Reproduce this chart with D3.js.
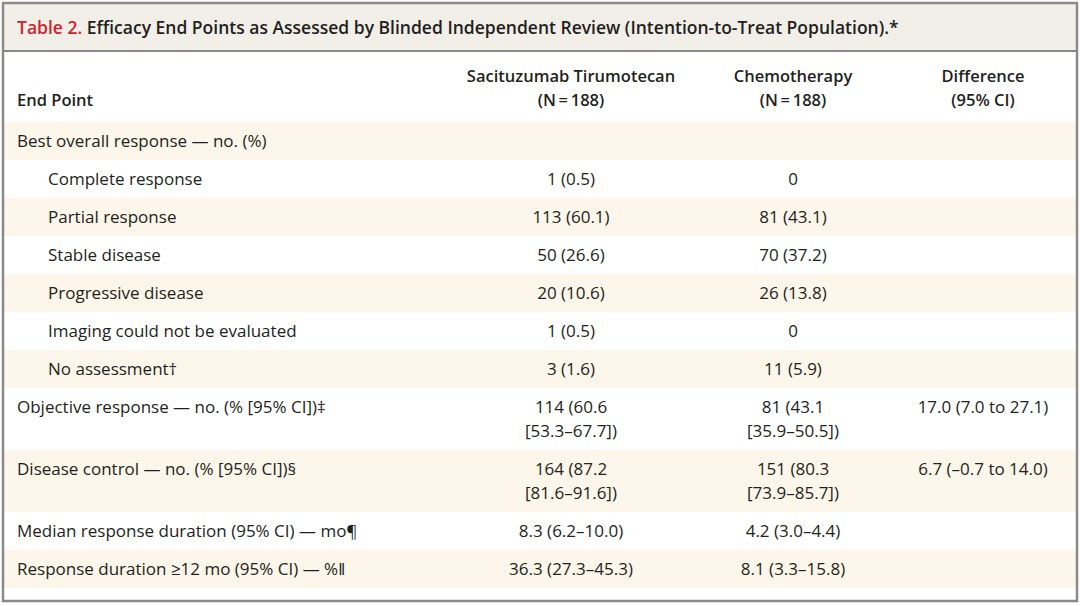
<!DOCTYPE html>
<html><head><meta charset="utf-8">
<script src="https://cdn.jsdelivr.net/npm/d3@7"></script>
<style>body{margin:0;background:#fff}</style></head>
<body><svg id="c" width="1080" height="606"></svg>
<script>
const titleLabel = "Table 2.";
const titleText = "Efficacy End Points as Assessed by Blinded Independent Review (Intention-to-Treat Population).*";
const columns = [["End Point"],["Sacituzumab Tirumotecan","(N\u2009=\u2009188)"],["Chemotherapy","(N\u2009=\u2009188)"],["Difference","(95% CI)"]];
const endPoints = ["Best overall response \u2014 no. (%)","Complete response","Partial response","Stable disease","Progressive disease","Imaging could not be evaluated","No assessment\u2020","Objective response \u2014 no. (% [95% CI])\u2021","Disease control \u2014 no. (% [95% CI])\u00a7","Median response duration  (95% CI) \u2014 mo\u00b6","Response duration \u226512 mo (95% CI) \u2014 %\u2016"];
const indent = [0,1,1,1,1,1,1,0,0,0,0];
const sacValues = [[""],["1 (0.5)"],["113 (60.1)"],["50 (26.6)"],["20 (10.6)"],["1 (0.5)"],["3 (1.6)"],["114 (60.6","[53.3\u201367.7])"],["164 (87.2","[81.6\u201391.6])"],["8.3 (6.2\u201310.0)"],["36.3 (27.3\u201345.3)"]];
const chemoValues = [[""],["0"],["81 (43.1)"],["70 (37.2)"],["26 (13.8)"],["0"],["11 (5.9)"],["81 (43.1","[35.9\u201350.5])"],["151 (80.3","[73.9\u201385.7])"],["4.2 (3.0\u20134.4)"],["8.1 (3.3\u201315.8)"]];
const diffValues = [[""],[""],[""],[""],[""],[""],[""],["17.0 (7.0 to 27.1)"],["6.7 (\u20130.7 to 14.0)"],[""],[""]];

const svg = d3.select("#c");
const F = "'Open Sans', sans-serif";
const ink = "#231f20";
// row heights derived from line counts
const lines = endPoints.map((d,i)=>Math.max(sacValues[i].length, chemoValues[i].length));
const rowH = lines.map(n=>n===1?38:62);
let y0 = 122, rowY = [];
rowH.forEach(h=>{rowY.push(y0); y0+=h;});
const colX = d3.scaleOrdinal().domain([1,2,3]).range([571,793,983]);

svg.append("rect").attr("x",4).attr("y",4).attr("width",1072).attr("height",46).attr("fill","#f2efe9");
rowY.forEach((y,i)=>{ if(i%2===0) svg.append("rect").attr("x",4).attr("y",y).attr("width",1072).attr("height",rowH[i]).attr("fill","#fdf6ea"); });
svg.append("line").attr("x1",4).attr("x2",1076).attr("y1",51).attr("y2",51).attr("stroke","#8a8a8a").attr("stroke-width",2);
svg.append("rect").attr("x",3).attr("y",3).attr("width",1074).attr("height",598).attr("fill","none").attr("stroke","#8a8a8a").attr("stroke-width",2.5);

const t = svg.append("text").attr("x",17).attr("y",34).attr("font-family",F).attr("font-size",17.5).attr("font-weight",600).attr("fill",ink);
t.append("tspan").attr("fill","#d2232a").text(titleLabel+" ");
t.append("tspan").text(titleText);

svg.append("text").attr("x",17).attr("y",106).attr("font-family",F).attr("font-size",16.5).attr("font-weight",600).attr("fill",ink).text(columns[0][0]);
[1,2,3].forEach(c=>{
  columns[c].forEach((s,k)=>svg.append("text").attr("x",colX(c)).attr("y",82+k*24).attr("text-anchor","middle").attr("font-family",F).attr("font-size",16.5).attr("font-weight",600).attr("fill",ink).text(s));
});
endPoints.forEach((s,i)=>{
  const by = rowY[i]+25;
  svg.append("text").attr("x",indent[i]?48:17).attr("y",by).attr("font-family",F).attr("font-size",17).attr("fill",ink).text(s);
  [sacValues,chemoValues,diffValues].forEach((arr,c)=>{
    arr[i].forEach((v,k)=>svg.append("text").attr("x",colX(c+1)).attr("y",by+k*24).attr("text-anchor","middle").attr("font-family",F).attr("font-size",17).attr("fill",ink).text(v));
  });
});
</script></body></html>
